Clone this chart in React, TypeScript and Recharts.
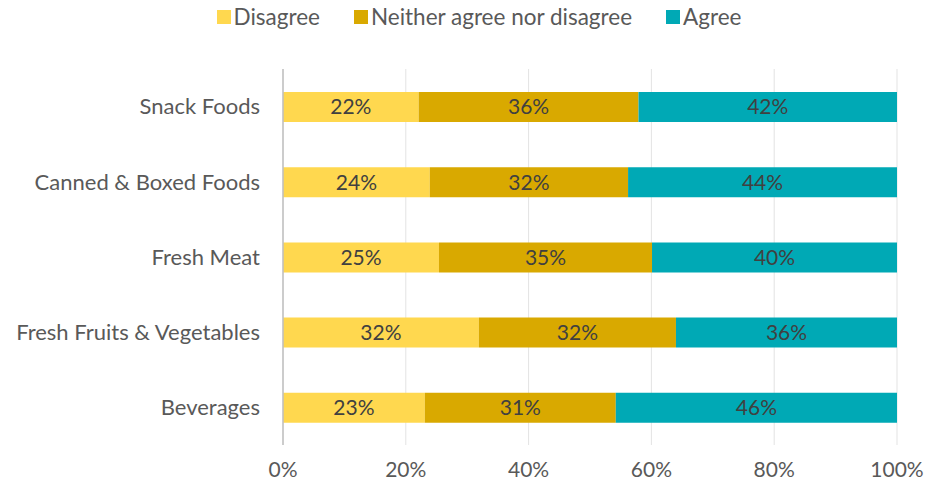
import React from "react";
import { Bar, BarChart, CartesianGrid, LabelList, XAxis, YAxis } from "recharts";

const categories = [
  "Snack Foods",
  "Canned & Boxed Foods",
  "Fresh Meat",
  "Fresh Fruits & Vegetables",
  "Beverages",
];
const disagree = [22.1, 23.9, 25.4, 31.9, 23.1];
const neither = [35.8, 32.3, 34.7, 32.1, 31.1];
const agree = [42.1, 43.8, 39.9, 36.0, 45.8];
const xTicks = [0, 20, 40, 60, 80, 100];

const series = [
  { key: "disagree", name: "Disagree", color: "#FFD84F" },
  { key: "neither", name: "Neither agree nor disagree", color: "#D9A900" },
  { key: "agree", name: "Agree", color: "#00A9B5" },
];

const data = categories.map((name, i) => ({
  name,
  disagree: disagree[i],
  neither: neither[i],
  agree: agree[i],
}));

const FONT = "Lato, 'Open Sans', sans-serif";
const TEXT = "#595959";

function LegendBox() {
  return (
    <div
      style={{
        position: "absolute",
        top: 3,
        left: 0,
        width: 926,
        display: "flex",
        justifyContent: "center",
        paddingLeft: 66,
        boxSizing: "border-box",
        fontFamily: FONT,
        fontSize: 22.5,
        color: TEXT,
      }}
    >
      {series.map((s) => (
        <div key={s.key} style={{ display: "flex", alignItems: "center", marginRight: 34 }}>
          <span style={{ width: 14, height: 14, background: s.color, marginRight: 3, display: "inline-block" }} />
          <span>{s.name}</span>
        </div>
      ))}
    </div>
  );
}

export default function App() {
  return (
    <div style={{ position: "absolute", left: 0, top: 0, width: 926, height: 488, background: "#fff" }}>
      <BarChart
        width={926}
        height={488}
        data={data}
        layout="vertical"
        margin={{ top: 69, right: 29, bottom: 0, left: 0 }}
        barSize={30}
      >
        <CartesianGrid horizontal={false} stroke="#E3E3E3" />
        <XAxis
          type="number"
          domain={[0, 100]}
          ticks={xTicks}
          tickFormatter={(v) => `${v}%`}
          axisLine={false}
          tickLine={false}
          height={43}
          tickMargin={11}
          tick={{ fontSize: 21, fill: TEXT, fontFamily: FONT }}
        />
        <YAxis
          type="category"
          dataKey="name"
          width={283}
          axisLine={{ stroke: "#BFBFBF", strokeWidth: 1.5 }}
          tickLine={false}
          tickMargin={17}
          tick={{ fontSize: 22, fill: TEXT, fontFamily: FONT }}
        />
        {series.map((s) => (
          <Bar key={s.key} dataKey={s.key} name={s.name} stackId="a" fill={s.color} isAnimationActive={false}>
            <LabelList
              dataKey={s.key}
              position="center"
              formatter={(v: number) => `${Math.round(v)}%`}
              style={{ fontSize: 21, fill: "#404040", fontFamily: FONT }}
            />
          </Bar>
        ))}
      </BarChart>
      <LegendBox />
    </div>
  );
}
